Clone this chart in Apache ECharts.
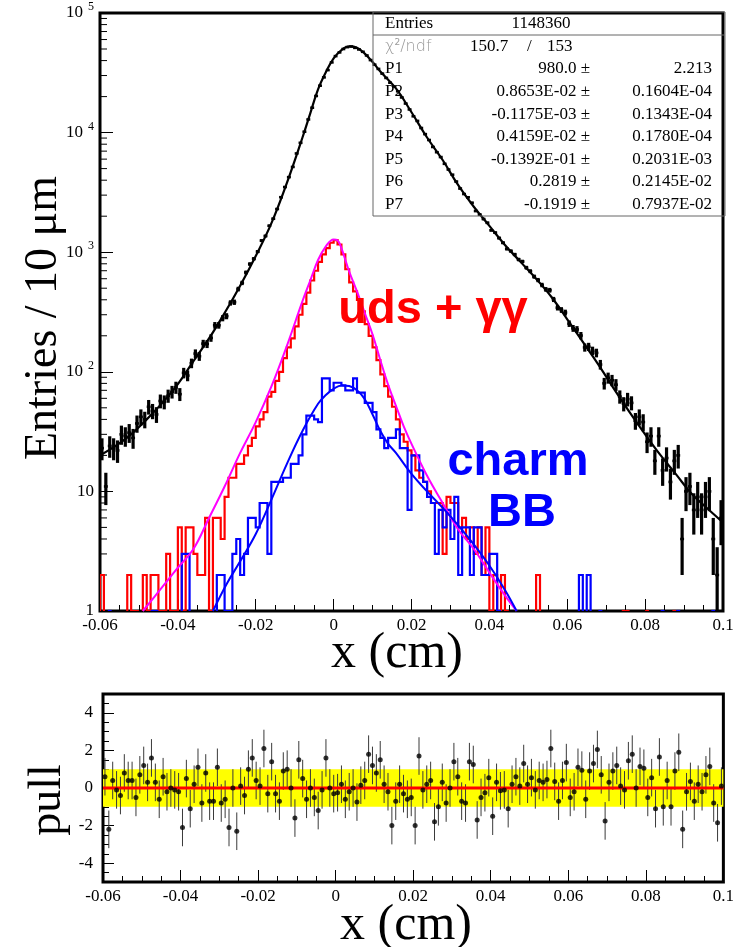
<!DOCTYPE html>
<html>
<head>
<meta charset="utf-8">
<script src="https://cdn.jsdelivr.net/npm/echarts@6/dist/echarts.min.js"></script>
<style>
  html, body { margin: 0; padding: 0; background: #fff; }
  #chart { width: 737px; height: 947px; }
</style>
</head>
<body>
<div id="chart"></div>
<script>
// ---- binning: 160 bins of 10 um between -0.06 and 0.1 cm ----
const X_MIN = -0.06;
const X_MAX = 0.1;
const BIN_WIDTH = 0.001;

// all events, entries per bin
const dataCounts = [
  23, 11, 24, 23, 22, 30, 29, 31, 28, 37,
  42, 40, 51, 47, 44, 57, 56, 63, 68, 74,
  65, 98, 93, 118, 142, 135, 172, 171, 192, 245,
  245, 281, 292, 377, 382, 492, 554, 677, 796, 881,
  1012, 1250, 1366, 1663, 1904, 2297, 2883, 3506, 4242, 5163,
  6691, 8219, 10172, 12882, 16154, 20245, 24676, 28946, 33304, 38621,
  43600, 46817, 49985, 51834, 52481, 51116, 49578, 47402, 44156, 40406,
  36994, 34076, 31115, 28641, 26127, 24305, 22161, 19682, 17499, 15605,
  13689, 12525, 10925, 9709, 8673, 7582, 6855, 6245, 5483, 4912,
  4445, 3894, 3406, 3063, 2877, 2590, 2210, 2066, 1894, 1761,
  1525, 1456, 1313, 1199, 1066, 1023, 957, 869, 836, 742,
  694, 625, 585, 532, 489, 481, 403, 344, 329, 313,
  253, 231, 226, 201, 160, 162, 150, 144, 115, 80,
  89, 85, 78, 62, 54, 59, 55, 39, 42, 38,
  26, 29, 18, 29, 15, 19, 12, 18, 20, 4,
  10, 11, 7, 9, 7, 9, 10, 4, 2, 6
];

// uds + gamma gamma component
const udsCounts = [
  2, 0, 0, 0, 0, 0, 0, 2, 1, 1,
  0, 2, 1, 2, 2, 1, 1, 3, 1, 1,
  5, 1, 5, 5, 3, 2, 2, 6, 1, 6,
  6, 4, 9, 13, 13, 17, 17, 20, 24, 28,
  35, 40, 46, 62, 68, 84, 100, 130, 160, 190,
  240, 300, 370, 460, 580, 700, 830, 960, 1080, 1200,
  1260, 1160, 960, 720, 560, 470, 400, 320, 250, 200,
  160, 125, 95, 76, 62, 51, 40, 30, 26, 22,
  20, 15, 13, 12, 10, 8, 8, 8, 3, 9,
  8, 8, 5, 6, 4, 5, 3, 5, 2, 5,
  1, 2, 1, 2, 1, 0, 0, 0, 0, 0,
  0, 0, 2, 0, 0, 0, 0, 0, 0, 0,
  0, 0, 0, 0, 0, 0, 0, 0, 0, 0,
  0, 0, 0, 0, 1, 1, 0, 0, 0, 0,
  1, 0, 0, 0, 0, 0, 0, 1, 0, 0,
  0, 0, 0, 0, 0, 0, 0, 0, 0, 0
];

// charm + BB component
const charmCounts = [
  0, 0, 1, 0, 0, 0, 0, 0, 0, 0,
  0, 0, 0, 1, 1, 0, 0, 0, 0, 0,
  0, 3, 3, 0, 0, 0, 0, 0, 0, 0,
  2, 2, 1, 1, 3, 4, 2, 3, 6, 6,
  5, 8, 8, 3, 12, 12, 12, 13, 13, 17,
  17, 20, 30, 43, 43, 40, 38, 88, 88, 70,
  81, 81, 77, 70, 70, 88, 67, 67, 55, 55,
  46, 33, 28, 23, 28, 28, 33, 23, 23, 7,
  20, 20, 15, 12, 9, 8, 3, 7, 5, 7,
  4, 9, 2, 5, 5, 2, 5, 5, 2, 2,
  3, 3, 1, 0, 0, 0, 0, 0, 0, 0,
  0, 0, 0, 0, 0, 0, 0, 0, 0, 0,
  0, 0, 0, 2, 0, 2, 0, 0, 1, 0,
  0, 0, 0, 0, 0, 0, 0, 0, 0, 0,
  0, 0, 0, 0, 1, 0, 0, 0, 1, 0,
  0, 0, 0, 0, 0, 0, 0, 1, 0, 0
];

// fitted function, total
const fitX = [-0.06, -0.056, -0.052, -0.048, -0.044, -0.04, -0.036, -0.032, -0.028, -0.024,
  -0.02, -0.016, -0.012, -0.008, -0.006, -0.004, -0.002, 0, 0.002, 0.004,
  0.006, 0.008, 0.01, 0.012, 0.016, 0.02, 0.024, 0.028, 0.032, 0.036,
  0.04, 0.044, 0.048, 0.052, 0.056, 0.06, 0.064, 0.068, 0.072, 0.076,
  0.08, 0.084, 0.088, 0.092, 0.096, 0.1];
const fitY = [20, 24, 30, 40, 55, 79, 123, 190, 310, 525,
  930, 1740, 3800, 9100, 14500, 23000, 32000, 41700, 49000, 52500,
  51300, 45700, 38900, 32400, 23400, 14800, 9100, 5900, 3630, 2400,
  1660, 1150, 830, 600, 420, 275, 178, 115, 72, 46,
  30, 20, 13.8, 9.5, 7.2, 5.5];

// fitted shape, uds + gamma gamma
const udsFitX = [-0.049, -0.0446, -0.04, -0.036, -0.032, -0.028, -0.024, -0.02, -0.016, -0.012,
  -0.008, -0.006, -0.004, -0.002, 0, 0.001, 0.002, 0.004, 0.006, 0.008,
  0.01, 0.012, 0.014, 0.016, 0.018, 0.02, 0.024, 0.028, 0.032, 0.036,
  0.04, 0.044, 0.047];
const udsFitY = [1.0, 1.5, 2.3, 3.3, 6.0, 11, 21, 38, 75, 165,
  390, 580, 860, 1120, 1280, 1260, 1080, 690, 470, 310,
  205, 125, 78, 52, 35, 25, 13.5, 8.0, 4.8, 3.3,
  2.1, 1.35, 1.0];

// fitted shape, charm + BB
const charmFitX = [-0.031, -0.0274, -0.024, -0.02, -0.016, -0.012, -0.008, -0.004, -0.002, 0,
  0.002, 0.004, 0.006, 0.008, 0.01, 0.012, 0.014, 0.016, 0.02, 0.024,
  0.028, 0.032, 0.036, 0.04, 0.044, 0.047];
const charmFitY = [1.0, 1.7, 2.6, 4.4, 8.5, 17, 32, 54, 64, 72,
  77, 76, 70, 59, 44, 32, 25, 21, 14, 10,
  7.3, 5.2, 3.6, 2.4, 1.5, 1.0];

// residuals (data - fit) / error, one per bin
const pullValues = [
  0.6, -2.2, 0.4, -0.1, -0.4, 0.8, 0.4, 0.4, -0.5, 0.7,
  1.2, 0.3, 1.6, 0.3, -0.6, 0.6, -0.2, 0, -0.1, -0.2,
  -2.1, 0.5, -1.1, 0.2, 1.1, -0.8, 0.8, -0.7, -0.7, 1.1,
  -0.8, -0.6, -2.1, 0, -2.3, 0.1, -0.4, 1.0, 1.6, 0.4,
  0.1, 2.1, -0.3, 1.4, -0.3, -0.7, 0.9, 1.0, 0, -1.6,
  1.5, 0.5, -0.6, 0, -0.5, -1.2, -0.1, 1.6, 0, -0.3,
  -0.25, 0.2, -0.6, -0.2, 0, -0.75, 0.15, 0.4, 1.8, 1.2,
  0.8, 1.5, 0.2, -0.2, -2.0, -0.7, 0.2, -0.3, -0.6, -0.5,
  -2.0, 1.7, -0.1, 0.2, 0.4, -1.8, -1.0, 0.3, -0.8, 0,
  1.4, 0.6, -0.7, -0.8, 1.4, 1.25, -1.7, -0.5, -0.25, 0.55,
  -1.5, 0.3, -0.15, -0.1, -1.1, 0.2, 0.6, 0.1, 1.3, 0.2,
  0.55, -0.1, 0.4, 0.3, 0.45, 2.1, 0.35, -0.7, 0.4, 1.35,
  -0.5, -0.2, 1.1, 0.95, -0.6, 0.9, 1.3, 2.05, 0.7, -1.75,
  0.3, 0.9, 1.2, 0.1, -0.1, 1.45, 1.8, 0, 1.15, 1.05,
  -0.5, 0.55, -1.1, 1.65, -1.0, 0.4, -1.0, 0.9, 1.9, -2.2,
  -0.2, 0.35, -0.7, 0.2, -0.2, 0.7, 1.15, -0.8, -1.85, 0.1
];

// ticks / labels
const logMajorTicks = [1, 10, 100, 1000, 10000, 100000];
const logMinorMultipliers = [2, 3, 4, 5, 6, 7, 8, 9];
const pullLabelValues = [-4, -2, 0, 2, 4];

// fit summary box
const statsEntries = '1148360';
const statsChi2 = '150.7';
const statsNdf = '153';
const statsRows = [
  ['P1', '980.0 \u00b1', '2.213'],
  ['P2', '0.8653E-02 \u00b1', '0.1604E-04'],
  ['P3', '-0.1175E-03 \u00b1', '0.1343E-04'],
  ['P4', '0.4159E-02 \u00b1', '0.1780E-04'],
  ['P5', '-0.1392E-01 \u00b1', '0.2031E-03'],
  ['P6', '0.2819 \u00b1', '0.2145E-02'],
  ['P7', '-0.1919 \u00b1', '0.7937E-02']
];

const SERIF = '"Liberation Serif", "DejaVu Serif", serif';
const SANS = '"Liberation Sans", Arial, sans-serif';

function binLow(i) { return X_MIN + i * BIN_WIDTH; }
function fmtX(v) { const r = Math.round(v * 1000) / 1000; return r === 0 ? '0' : String(r); }

const logMinorTicks = [];
for (let d = 0; d < logMajorTicks.length - 1; d++) {
  logMinorMultipliers.forEach(m => logMinorTicks.push(logMajorTicks[d] * m));
}

const chart = echarts.init(document.getElementById('chart'), null, { renderer: 'canvas', width: 737, height: 947 });

// step outline of a histogram, empty bins dropped to the frame bottom
function stepSeries(counts, color) {
  return {
    type: 'custom', xAxisIndex: 0, yAxisIndex: 0, clip: true, silent: true, z: 3,
    data: [[0, 1]],
    renderItem: function (params, api) {
      const kids = [];
      const base = api.coord([X_MIN, 1])[1];
      let cur = [];
      const flush = () => {
        if (cur.length > 1) kids.push({ type: 'polyline', shape: { points: cur }, style: { stroke: color, lineWidth: 2.2, fill: null } });
        cur = [];
      };
      for (let i = 0; i < counts.length; i++) {
        const c = counts[i];
        const x0 = api.coord([binLow(i), 1])[0];
        const x1 = api.coord([binLow(i + 1), 1])[0];
        if (c >= 1) {
          const y = api.coord([X_MIN, c])[1];
          if (cur.length === 0) cur.push([x0, base]);
          cur.push([x0, y], [x1, y]);
        } else if (cur.length) {
          cur.push([x0, base]);
          flush();
        }
      }
      flush();
      return { type: 'group', children: kids };
    }
  };
}

function curveSeries(xs, ys, color, width, z) {
  return {
    type: 'line', xAxisIndex: 0, yAxisIndex: 0, smooth: 0.4, showSymbol: false, silent: true, z: z,
    clip: true,
    data: xs.map((x, i) => [x, ys[i]]),
    lineStyle: { color: color, width: width }
  };
}

const labelStyle = { fontFamily: SERIF, fontSize: 17, color: '#000' };

const option = {
  animation: false,
  backgroundColor: '#fff',
  grid: [
    { left: 100, top: 13, width: 623, height: 598, show: true, borderColor: '#000', borderWidth: 3, backgroundColor: 'transparent' },
    { left: 103, top: 694, width: 629, height: 188, show: true, borderColor: '#000', borderWidth: 3, backgroundColor: 'transparent' }
  ],
  xAxis: [
    {
      type: 'value', gridIndex: 0, min: X_MIN, max: X_MAX, interval: 0.02, position: 'bottom',
      axisLine: { show: false, onZero: false }, splitLine: { show: false },
      axisTick: { inside: true, length: 12, lineStyle: { color: '#000', width: 1 } },
      minorTick: { show: true, splitNumber: 4, length: 6, lineStyle: { color: '#000', width: 1 } },
      axisLabel: Object.assign({ formatter: fmtX, margin: 6, showMaxLabel: true, showMinLabel: true }, labelStyle)
    },
    {
      type: 'value', gridIndex: 1, min: X_MIN, max: X_MAX, interval: 0.02, position: 'bottom',
      axisLine: { show: false, onZero: false }, splitLine: { show: false },
      axisTick: { inside: true, length: 12, lineStyle: { color: '#000', width: 1 } },
      minorTick: { show: true, splitNumber: 4, length: 6, lineStyle: { color: '#000', width: 1 } },
      axisLabel: Object.assign({ formatter: fmtX, margin: 6, showMaxLabel: true, showMinLabel: true }, labelStyle)
    }
  ],
  yAxis: [
    {
      type: 'log', gridIndex: 0, logBase: 10, min: 1, max: 100000, splitNumber: 5, position: 'left',
      axisLine: { show: false, onZero: false }, splitLine: { show: false },
      axisTick: { inside: true, length: 13, lineStyle: { color: '#000', width: 1 } },
      axisLabel: {
        margin: 6,
        formatter: function (v) {
          const e = Math.round(Math.log10(v));
          if (e === 0) return '{b|1}';
          if (e === 1) return '{b|10}';
          return '{b|10}{s|' + e + '}';
        },
        rich: {
          b: { fontFamily: SERIF, fontSize: 17, color: '#000' },
          s: { fontFamily: SERIF, fontSize: 12, color: '#000', padding: [0, 0, 12, 5] }
        }
      }
    },
    {
      type: 'value', gridIndex: 1, position: 'left', min: -5, max: 5, interval: 1,
      axisLine: { show: false, onZero: false }, splitLine: { show: false },
      axisTick: { inside: true, length: 11, customValues: pullLabelValues, lineStyle: { color: '#000', width: 1 } },
      axisLabel: Object.assign({ customValues: pullLabelValues, margin: 10 }, labelStyle)
    },
    {
      type: 'value', gridIndex: 1, position: 'left', min: -5, max: 5, interval: 0.5,
      axisLine: { show: false, onZero: false }, splitLine: { show: false },
      axisTick: { inside: true, length: 6, lineStyle: { color: '#000', width: 1 } },
      axisLabel: { show: false }
    }
  ],
  series: [
    // log-axis minor ticks along the left edge
    {
      type: 'custom', xAxisIndex: 0, yAxisIndex: 0, silent: true, z: 1, data: [[0, 1]],
      renderItem: function (params, api) {
        const kids = logMinorTicks.map(v => {
          const p = api.coord([X_MIN, v]);
          return { type: 'line', shape: { x1: p[0], y1: p[1], x2: p[0] + 7, y2: p[1] }, style: { stroke: '#000', lineWidth: 1 } };
        });
        return { type: 'group', children: kids };
      }
    },
    stepSeries(udsCounts, '#ff0000'),
    stepSeries(charmCounts, '#0000ff'),
    curveSeries(udsFitX, udsFitY, '#ff00ff', 2, 4),
    curveSeries(charmFitX, charmFitY, '#0000ff', 2, 4),
    // total sample with statistical errors
    {
      type: 'custom', xAxisIndex: 0, yAxisIndex: 0, clip: true, silent: true, z: 5, data: [[0, 1]],
      renderItem: function (params, api) {
        const kids = [];
        for (let i = 0; i < dataCounts.length; i++) {
          const n = dataCounts[i];
          const e = Math.sqrt(n);
          const xl = binLow(i), xh = binLow(i + 1), xc = (xl + xh) / 2;
          const lo = Math.max(n - e, 0.3);
          const a = api.coord([xl, n]), b = api.coord([xh, n]);
          const c = api.coord([xc, lo]), d = api.coord([xc, n + e]);
          kids.push({ type: 'line', shape: { x1: a[0], y1: a[1], x2: b[0], y2: b[1] }, style: { stroke: '#000', lineWidth: 2.6 } });
          kids.push({ type: 'line', shape: { x1: c[0], y1: c[1], x2: d[0], y2: d[1] }, style: { stroke: '#000', lineWidth: 3.2 } });
        }
        return { type: 'group', children: kids };
      }
    },
    curveSeries(fitX, fitY, '#000', 2.2, 6),
    // pull panel: +-1 band
    {
      type: 'custom', xAxisIndex: 1, yAxisIndex: 1, silent: true, z: 1, data: [[0, 0]],
      renderItem: function (params, api) {
        const a = api.coord([X_MIN, 1]), b = api.coord([X_MAX, -1]);
        return { type: 'rect', shape: { x: a[0], y: a[1], width: b[0] - a[0], height: b[1] - a[1] }, style: { fill: '#ffff00' } };
      }
    },
    // pull panel: error bars
    {
      type: 'custom', xAxisIndex: 1, yAxisIndex: 1, silent: true, clip: true, z: 2, data: [[0, 0]],
      renderItem: function (params, api) {
        const kids = pullValues.map((p, i) => {
          const xc = binLow(i) + BIN_WIDTH / 2;
          const t = api.coord([xc, p + 1]), u = api.coord([xc, p - 1]);
          return { type: 'line', shape: { x1: t[0], y1: t[1], x2: u[0], y2: u[1] }, style: { stroke: '#3a3a3a', lineWidth: 1 } };
        });
        return { type: 'group', children: kids };
      }
    },
    // pull panel: zero line
    {
      type: 'custom', xAxisIndex: 1, yAxisIndex: 1, silent: true, z: 3, data: [[0, 0]],
      renderItem: function (params, api) {
        const a = api.coord([X_MIN, 0]), b = api.coord([X_MAX, 0]);
        return { type: 'line', shape: { x1: a[0], y1: a[1], x2: b[0], y2: b[1] }, style: { stroke: '#ff0000', lineWidth: 3 } };
      }
    },
    {
      type: 'scatter', xAxisIndex: 1, yAxisIndex: 1, silent: true, z: 4,
      symbol: 'circle', symbolSize: 5,
      itemStyle: { color: '#000' },
      data: pullValues.map((p, i) => [binLow(i) + BIN_WIDTH / 2, p])
    }
  ],
  graphic: [
    // fit summary box
    { type: 'rect', z: 50, shape: { x: 373, y: 12, width: 352, height: 204 }, style: { fill: 'none', stroke: '#666', lineWidth: 1 } },
    { type: 'line', z: 50, shape: { x1: 373, y1: 35, x2: 724, y2: 35 }, style: { stroke: '#666', lineWidth: 1 } },
    { type: 'text', z: 51, x: 385, y: 24, style: { text: 'Entries', font: '17px ' + SERIF, fill: '#000', align: 'left', verticalAlign: 'middle' } },
    { type: 'text', z: 51, x: 541, y: 24, style: { text: statsEntries, font: '17px ' + SERIF, fill: '#000', align: 'center', verticalAlign: 'middle' } },
    {
      type: 'text', z: 51, x: 385, y: 47, style: {
        text: '{g|\u03c7}{s|2}{g|/ndf}', align: 'left', verticalAlign: 'middle',
        rich: {
          g: { fontFamily: '"DejaVu Sans", sans-serif', fontSize: 16, fill: '#9a9a9a', fontWeight: 'lighter' },
          s: { fontFamily: '"DejaVu Sans", sans-serif', fontSize: 9, fill: '#9a9a9a', padding: [0, 0, 9, 0] }
        }
      }
    },
    { type: 'text', z: 51, x: 470, y: 47, style: { text: statsChi2, font: '17px ' + SERIF, fill: '#000', align: 'left', verticalAlign: 'middle' } },
    { type: 'text', z: 51, x: 527, y: 47, style: { text: '/', font: '17px ' + SERIF, fill: '#000', align: 'left', verticalAlign: 'middle' } },
    { type: 'text', z: 51, x: 547, y: 47, style: { text: statsNdf, font: '17px ' + SERIF, fill: '#000', align: 'left', verticalAlign: 'middle' } }
  ].concat(
    statsRows.flatMap((r, k) => {
      const y = 69 + k * 22.6;
      return [
        { type: 'text', z: 51, x: 385, y: y, style: { text: r[0], font: '17px ' + SERIF, fill: '#000', align: 'left', verticalAlign: 'middle' } },
        { type: 'text', z: 51, x: 590, y: y, style: { text: r[1], font: '17px ' + SERIF, fill: '#000', align: 'right', verticalAlign: 'middle' } },
        { type: 'text', z: 51, x: 712, y: y, style: { text: r[2], font: '17px ' + SERIF, fill: '#000', align: 'right', verticalAlign: 'middle' } }
      ];
    }),
    [
      // component labels
      { type: 'text', z: 52, x: 433, y: 310, style: { text: 'uds + \u03b3\u03b3', font: 'bold 47px ' + SANS, fill: '#ff0000', align: 'center', verticalAlign: 'middle' } },
      { type: 'text', z: 52, x: 518, y: 462, style: { text: 'charm', font: 'bold 47px ' + SANS, fill: '#0000ff', align: 'center', verticalAlign: 'middle' } },
      { type: 'text', z: 52, x: 522, y: 513, style: { text: 'BB', font: 'bold 47px ' + SANS, fill: '#0000ff', align: 'center', verticalAlign: 'middle' } },
      // axis titles
      { type: 'text', z: 52, x: 44, y: 318, rotation: Math.PI / 2, style: { text: 'Entries / 10 \u03bcm', font: '46px ' + SERIF, fill: '#000', align: 'center', verticalAlign: 'middle' } },
      { type: 'text', z: 52, x: 397, y: 654, style: { text: 'x (cm)', font: '50px ' + SERIF, fill: '#000', align: 'center', verticalAlign: 'middle' } },
      { type: 'text', z: 52, x: 48, y: 800, rotation: Math.PI / 2, style: { text: 'pull', font: '46px ' + SERIF, fill: '#000', align: 'center', verticalAlign: 'middle' } },
      { type: 'text', z: 52, x: 406, y: 926, style: { text: 'x (cm)', font: '50px ' + SERIF, fill: '#000', align: 'center', verticalAlign: 'middle' } }
    ]
  )
};

chart.setOption(option);
</script>
</body>
</html>
